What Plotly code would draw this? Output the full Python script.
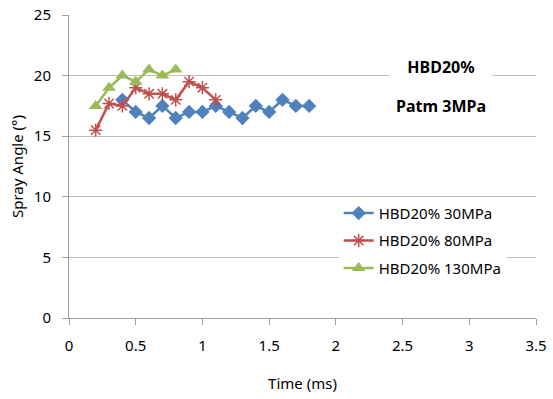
import plotly.graph_objects as go

t30 = [0.4, 0.5, 0.6, 0.7, 0.8, 0.9, 1.0, 1.1, 1.2, 1.3, 1.4, 1.5, 1.6, 1.7, 1.8]
a30 = [18.0, 17.0, 16.5, 17.5, 16.5, 17.0, 17.0, 17.5, 17.0, 16.5, 17.5, 17.0, 18.0, 17.5, 17.5]
t80 = [0.2, 0.3, 0.4, 0.5, 0.6, 0.7, 0.8, 0.9, 1.0, 1.1]
a80 = [15.5, 17.7, 17.5, 19.0, 18.5, 18.5, 18.0, 19.5, 19.0, 18.0]
t130 = [0.2, 0.3, 0.4, 0.5, 0.6, 0.7, 0.8]
a130 = [17.5, 19.0, 20.0, 19.5, 20.5, 20.0, 20.5]

xticks = [0, 0.5, 1, 1.5, 2, 2.5, 3, 3.5]
xlabels = ["0", "0.5", "1", "1.5", "2", "2.5", "3", "3.5"]
yticks = [0, 5, 10, 15, 20, 25]

FONT = "Noto Sans"
AX = "#A0A0A0"
fig = go.Figure()
fig.add_trace(go.Scatter(x=t30, y=a30, mode="lines+markers", name="HBD20% 30MPa",
                         legendgroup="a",
                         line=dict(color="#4F81BD", width=2.5),
                         marker=dict(symbol="diamond", size=11, color="#4F81BD")))
fig.add_trace(go.Scatter(x=t80, y=a80, mode="lines+markers", name="HBD20% 80MPa",
                         legendgroup="b",
                         line=dict(color="#C0504D", width=2.5),
                         marker=dict(symbol="asterisk-open", size=11,
                                     line=dict(color="#C0504D", width=1.5))))
fig.add_trace(go.Scatter(x=t130, y=a130, mode="lines+markers", name="HBD20% 130MPa",
                         legendgroup="c",
                         line=dict(color="#9BBB59", width=2.5),
                         marker=dict(symbol="triangle-up", size=12, color="#9BBB59")))

fig.update_layout(
    width=553, height=399,
    margin=dict(l=69, r=17, t=15, b=81, autoexpand=False),
    paper_bgcolor="white", plot_bgcolor="white",
    font=dict(family=FONT, size=15, color="black"),
    showlegend=True,
    legend=dict(x=0.5775, y=0.40, xanchor="left", yanchor="top",
                bgcolor="white", font=dict(size=15, family=FONT),
                tracegroupgap=5, itemwidth=30),
    xaxis=dict(range=[0, 3.5], tickvals=xticks, ticktext=xlabels,
               showgrid=False, zeroline=False, showline=True, linecolor=AX,
               ticks="outside", ticklen=6, tickcolor=AX, tickfont=dict(size=15),
               ticklabelstandoff=8, automargin=False,
               title=dict(text="Time (ms)", font=dict(size=15), standoff=24)),
    yaxis=dict(range=[0, 25], tickvals=yticks, showgrid=True, gridcolor="#BEBEBE",
               gridwidth=1, zeroline=False, showline=True, linecolor=AX,
               ticks="outside", ticklen=6, tickcolor=AX, tickfont=dict(size=15),
               ticklabelstandoff=8, automargin=False,
               title=dict(text="Spray Angle (°)", font=dict(size=15), standoff=6)),
)
fig.add_annotation(x=0.797, y=20, xref="paper", yref="y", xanchor="center",
                   text="<b>HBD20%</b>",
                   showarrow=False, bgcolor="white", width=100, height=22,
                   font=dict(size=16, family=FONT), yshift=9)
fig.add_annotation(x=0.797, y=17.5, xref="paper", yref="y", xanchor="center",
                   text="<b>Patm 3MPa</b>",
                   showarrow=False, font=dict(size=16, family=FONT), yshift=0)

fig.write_html("out.html")
